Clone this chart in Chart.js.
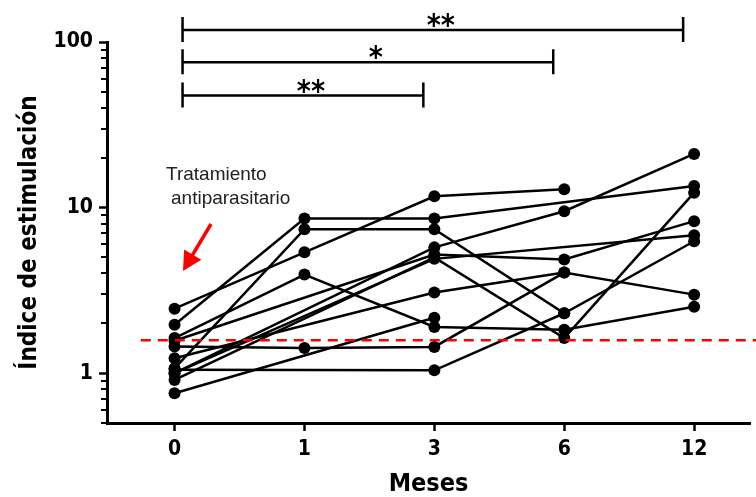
<!DOCTYPE html>
<html>
<head>
<meta charset="utf-8">
<script src="https://cdn.jsdelivr.net/npm/chart.js@4.4.1/dist/chart.umd.min.js"></script>
<style>
  html, body { margin: 0; padding: 0; background: #fff; }
  #wrap { width: 756px; height: 497px; }
</style>
</head>
<body>
<div id="wrap"><canvas id="chart" width="756" height="497"></canvas></div>
<script>
// 측정 시점 (개월)
const MONTHS = ['0', '1', '3', '6', '12'];

// 환자별 자극 지수 (null = 해당 시점 측정 없음)
const p01 = [2.45, 5.37, 11.7, 12.9, null];
const p02 = [1.96, 8.6, 8.6, null, 13.5];
const p03 = [1.07, 7.4, 7.4, 2.3, 6.26];
const p04 = [1.63, 3.94, 1.9, 1.83, 2.52];
const p05 = [1.45, 1.42, 1.44, 4.05, 2.98];
const p06 = [1.05, null, 1.04, 2.3, null];
const p07 = [0.756, null, 2.16, null, null];
const p08 = [1.23, null, 3.07, 4.05, null];
const p09 = [1.0, null, 5.75, 9.5, 21.1];
const p10 = [1.57, null, 5.2, 4.86, 8.28];
const p11 = [0.91, null, 5.0, 1.63, 12.3];
const p12 = [1.0, null, 4.9, null, 6.8];
const SUBJECTS = [p01, p02, p03, p04, p05, p06, p07, p08, p09, p10, p11, p12];

// 기준선 (cut-off)
const THRESHOLD = 1.58;

// y축 라벨이 붙는 값
const Y_LABELS = [1, 10, 100];

// 유의성 비교 (시작 인덱스, 끝 인덱스, 표시, 높이값)
const CMP_FROM = [0, 0, 0];
const CMP_TO = [4, 3, 2];
const CMP_LABEL = ['**', '*', '**'];
const CMP_LEVEL = [118, 75.5, 47.5];

const NARROW = "'Liberation Sans Narrow', 'Arial Narrow', 'DejaVu Sans Condensed', 'Liberation Sans', Arial, sans-serif";
const SANS = "'Liberation Sans', Arial, sans-serif";

// 로그 축 눈금 목록
const logTicks = [];
for (const d of [0.1, 1, 10]) {
  for (let k = 1; k <= 9; k++) {
    const v = Number((k * d).toPrecision(3));
    if (v >= 0.5 && v <= 100) logTicks.push(v);
  }
}
logTicks.push(100);

const datasets = SUBJECTS.map(vals => ({
  data: vals.map((v, i) => ({ x: i, y: v })).filter(p => p.y != null),
  borderColor: '#000',
  backgroundColor: '#000',
  borderWidth: 2.5,
  pointRadius: 6,
  pointBorderWidth: 0,
  pointBackgroundColor: '#000',
  tension: 0,
  clip: false,
}));

// 보조 눈금, 기준선, 유의성 표시, 주석
const extras = {
  id: 'extras',
  afterDatasetsDraw(chart) {
    const { ctx, scales: { x, y } } = chart;
    // 기준선
    const yy = y.getPixelForValue(THRESHOLD);
    ctx.save();
    ctx.strokeStyle = '#ff0000';
    ctx.lineWidth = 2.5;
    ctx.setLineDash([10, 7]);
    ctx.beginPath();
    ctx.moveTo(x.getPixelForValue(-0.26), yy);
    ctx.lineTo(chart.width, yy);
    ctx.stroke();
    ctx.restore();
  },
  afterDraw(chart) {
    const { ctx, scales: { x, y } } = chart;
    ctx.save();
    // 보조 눈금
    ctx.strokeStyle = '#000';
    ctx.lineWidth = 2;
    for (const v of logTicks) {
      if (Y_LABELS.includes(v)) continue;
      const py = Math.round(y.getPixelForValue(v));
      ctx.beginPath();
      ctx.moveTo(y.right, py);
      ctx.lineTo(y.right - 6, py);
      ctx.stroke();
    }
    // 유의성 브래킷
    ctx.lineWidth = 2.5;
    ctx.fillStyle = '#000';
    ctx.font = 'bold 30px ' + NARROW;
    ctx.textAlign = 'center';
    ctx.textBaseline = 'alphabetic';
    for (let i = 0; i < CMP_LABEL.length; i++) {
      const x0 = x.getPixelForValue(CMP_FROM[i]) + 8;
      const x1 = x.getPixelForValue(CMP_TO[i]) - 11;
      const py = y.getPixelForValue(CMP_LEVEL[i]);
      ctx.beginPath();
      ctx.moveTo(x0, py); ctx.lineTo(x1, py);
      ctx.moveTo(x0, py - 13); ctx.lineTo(x0, py + 12);
      ctx.moveTo(x1, py - 13); ctx.lineTo(x1, py + 12);
      ctx.stroke();
      ctx.fillText(CMP_LABEL[i], (x0 + x1) / 2 + 8, py + 5);
    }
    // 치료 주석
    ctx.fillStyle = '#222';
    ctx.font = '19px ' + SANS;
    ctx.textAlign = 'left';
    ctx.fillText('Tratamiento', 166, 180);
    ctx.fillText('antiparasitario', 171, 204);
    // 빨간 화살표
    const tx = 211, ty = 224, hx = 183, hy = 271;
    const dx = hx - tx, dy = hy - ty, len = Math.hypot(dx, dy);
    const ux = dx / len, uy = dy / len;
    const bx = hx - ux * 19, by = hy - uy * 19;
    ctx.strokeStyle = '#ff0000';
    ctx.fillStyle = '#ff0000';
    ctx.lineWidth = 3.5;
    ctx.beginPath();
    ctx.moveTo(tx, ty); ctx.lineTo(bx + ux * 2, by + uy * 2);
    ctx.stroke();
    ctx.beginPath();
    ctx.moveTo(hx, hy);
    ctx.lineTo(bx - uy * 10, by + ux * 10);
    ctx.lineTo(bx + uy * 10, by - ux * 10);
    ctx.closePath();
    ctx.fill();
    ctx.restore();
  }
};

new Chart(document.getElementById('chart'), {
  type: 'line',
  data: { datasets },
  plugins: [extras],
  options: {
    responsive: false,
    animation: false,
    devicePixelRatio: 1,
    layout: { padding: { top: 42, right: 0, bottom: 0, left: 0 } },
    plugins: { legend: { display: false }, tooltip: { enabled: false } },
    scales: {
      x: {
        type: 'linear',
        min: -0.52,
        max: 4.43,
        afterBuildTicks: s => { s.ticks = MONTHS.map((_, i) => ({ value: i })); },
        afterFit: s => { s.height = 74; },
        ticks: {
          callback: v => MONTHS[v] ?? '',
          color: '#000',
          font: { family: NARROW, size: 21, weight: 'bold' },
          padding: 6,
          maxRotation: 0,
        },
        grid: { drawOnChartArea: false, drawTicks: true, tickLength: 8, tickWidth: 2.5, tickColor: '#000' },
        border: { display: true, color: '#000', width: 3 },
        title: {
          display: true,
          text: 'Meses',
          color: '#000',
          font: { family: NARROW, size: 25, weight: 'bold', lineHeight: 1 },
          padding: { top: 0, bottom: 0 },
        },
      },
      y: {
        type: 'logarithmic',
        min: 0.5,
        max: 100,
        afterBuildTicks: s => { s.ticks = logTicks.map(v => ({ value: v })); },
        afterFit: s => { s.width = 107; },
        ticks: {
          callback: v => Y_LABELS.includes(v) ? String(v) : '',
          color: '#000',
          font: { family: NARROW, size: 21, weight: 'bold' },
          padding: 6,
          autoSkip: false,
        },
        grid: {
          drawOnChartArea: false,
          drawTicks: true,
          tickLength: 8,
          tickWidth: 2.5,
          tickColor: c => Y_LABELS.includes(c.tick.value) ? '#000' : 'rgba(0,0,0,0)',
        },
        border: { display: true, color: '#000', width: 3 },
        title: {
          display: true,
          text: 'Índice de estimulación',
          color: '#000',
          font: { family: NARROW, size: 24, weight: 'bold', lineHeight: 1 },
          padding: { top: 18, bottom: 0 },
        },
      },
    },
  },
});
</script>
</body>
</html>
